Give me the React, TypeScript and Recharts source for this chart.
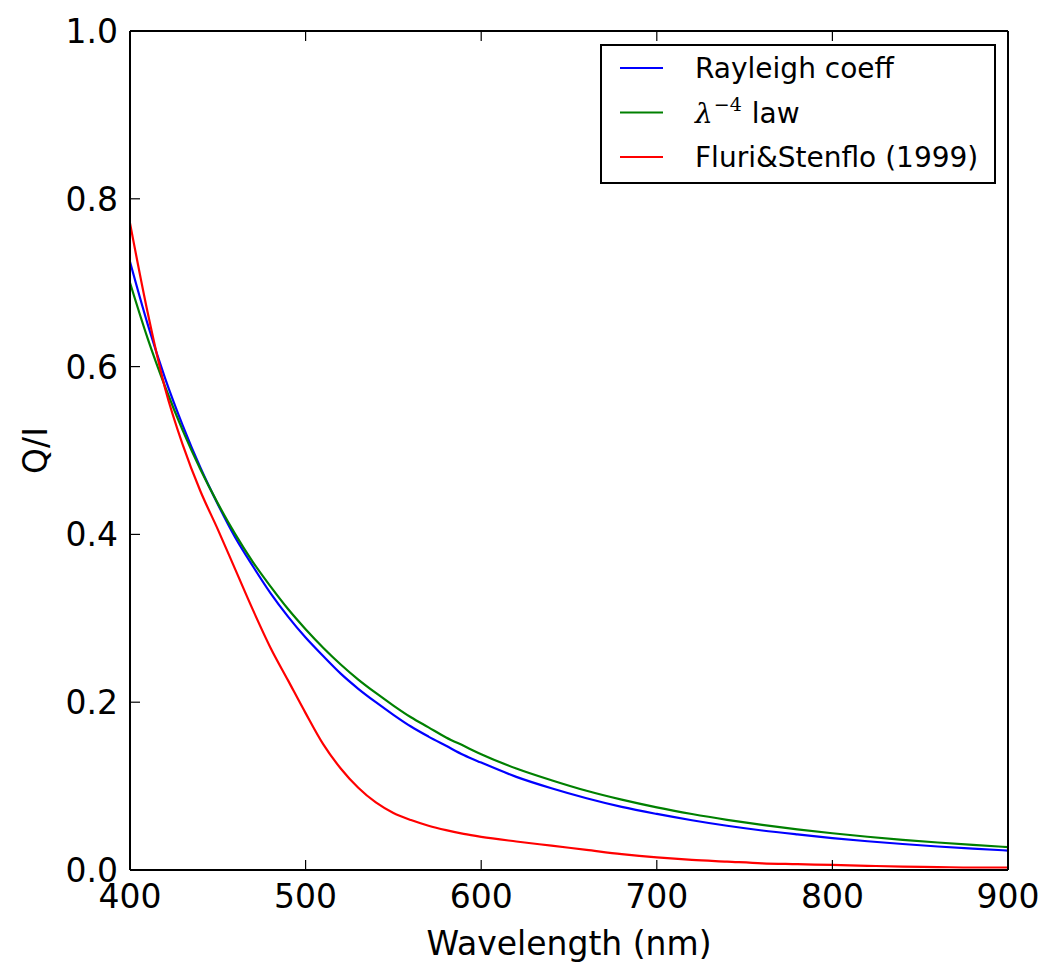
import React from 'react';
import { LineChart, Line, XAxis, YAxis, Legend } from 'recharts';

// wavelength grid (nm), read off the figure
const wavelengths = [
  400, 410, 420, 430, 440, 450, 460, 470, 480, 490, 500, 510, 520, 530, 540, 550, 560, 570, 580, 590, 600,
  620, 640, 660, 680, 700, 720, 740, 760, 780, 800, 820, 840, 860, 880, 900,
];

const rayleigh = [
  0.725, 0.651, 0.586, 0.53, 0.48, 0.436, 0.396, 0.362, 0.33, 0.302, 0.277, 0.255, 0.234, 0.216, 0.2, 0.185,
  0.171, 0.159, 0.148, 0.137, 0.128,
  0.111, 0.0974, 0.0855, 0.0752, 0.0668, 0.0593, 0.0527, 0.0471, 0.0424, 0.0381, 0.0343, 0.031, 0.028, 0.0254,
  0.0232,
];

const lambda4 = [
  0.7, 0.634, 0.576, 0.524, 0.478, 0.437, 0.4, 0.367, 0.338, 0.311, 0.287, 0.265, 0.245, 0.227, 0.211, 0.196,
  0.182, 0.17, 0.158, 0.148, 0.138,
  0.121, 0.107, 0.0944, 0.0838, 0.0746, 0.0667, 0.0598, 0.0537, 0.0484, 0.0438, 0.0396, 0.036, 0.0328, 0.0299,
  0.0273,
];

const fluri = [
  0.771, 0.665, 0.574, 0.507, 0.452, 0.406, 0.358, 0.31, 0.265, 0.226, 0.187, 0.15, 0.121, 0.098, 0.0805, 0.068,
  0.0595, 0.0528, 0.0475, 0.043, 0.0395,
  0.034, 0.029, 0.024, 0.019, 0.015, 0.012, 0.01, 0.008, 0.007, 0.006, 0.005, 0.004, 0.0035, 0.003, 0.003,
];

const xTicks = [400, 500, 600, 700, 800, 900];
const yTicks = [0, 0.2, 0.4, 0.6, 0.8, 1.0];
const legendOrder = ['rayleigh', 'lambda4', 'fluri'];

const data = wavelengths.map((wl, i) => ({
  wl,
  rayleigh: rayleigh[i],
  lambda4: lambda4[i],
  fluri: fluri[i],
}));

const FONT = '"DejaVu Sans", sans-serif';
const TICK_LEN = 10;
const TICK_FONT = 33;

const BottomTick = (props: any) => {
  const { x, y, payload } = props;
  return (
    <g>
      <line x1={x} x2={x} y1={y} y2={y - TICK_LEN} stroke="#000" strokeWidth={1.2} />
      <text x={x} y={y + 38} textAnchor="middle" fontFamily={FONT} fontSize={TICK_FONT} fill="#000">
        {payload.value}
      </text>
    </g>
  );
};

const TopTick = (props: any) => {
  const { x, y } = props;
  return <line x1={x} x2={x} y1={y} y2={y + TICK_LEN} stroke="#000" strokeWidth={1.2} />;
};

const LeftTick = (props: any) => {
  const { x, y, payload } = props;
  return (
    <g>
      <line x1={x} x2={x + TICK_LEN} y1={y} y2={y} stroke="#000" strokeWidth={1.2} />
      <text x={x - 12} y={y + 12} textAnchor="end" fontFamily={FONT} fontSize={TICK_FONT} fill="#000">
        {Number(payload.value).toFixed(1)}
      </text>
    </g>
  );
};

const RightTick = (props: any) => {
  const { x, y } = props;
  return <line x1={x - TICK_LEN} x2={x} y1={y} y2={y} stroke="#000" strokeWidth={1.2} />;
};

const YLabel = (props: any) => {
  const vb = props.viewBox || {};
  const cy = vb.height ? vb.y + vb.height / 2 : 450;
  return (
    <text
      x={35}
      y={cy}
      transform={`rotate(-90, 35, ${cy})`}
      textAnchor="middle"
      dominantBaseline="central"
      fontFamily={FONT}
      fontSize={TICK_FONT}
      fill="#000"
    >
      Q/I
    </text>
  );
};

const LegendBox = (props: any) => {
  const payload = [...(props.payload || [])].sort(
    (a: any, b: any) => legendOrder.indexOf(a.dataKey) - legendOrder.indexOf(b.dataKey)
  );
  return (
    <svg width={396} height={140} style={{ display: 'block' }}>
      <rect x={1} y={1} width={394} height={138} fill="#fff" stroke="#000" strokeWidth={2} />
      {payload.map((entry: any, i: number) => {
        const cy = 24 + i * 44.5;
        return (
          <g key={entry.dataKey}>
            <line x1={20} x2={63} y1={cy} y2={cy} stroke={entry.color} strokeWidth={2} />
            {entry.dataKey === 'lambda4' ? (
              <text x={95} y={cy + 10} fontSize={28} fill="#000" fontFamily={FONT}>
                <tspan fontFamily='"DejaVu Serif", serif' fontStyle="italic">λ</tspan>
                <tspan fontFamily='"DejaVu Serif", serif' fontSize={19} dy={-12} dx={1}>−4</tspan>
                <tspan dy={12} dx={10}>law</tspan>
              </text>
            ) : (
              <text x={95} y={cy + 10} fontSize={28} fill="#000" fontFamily={FONT}>
                {entry.value}
              </text>
            )}
          </g>
        );
      })}
    </svg>
  );
};

export default function App() {
  return (
    <div style={{ position: 'absolute', left: 0, top: 0, width: 1047, height: 964, background: '#fff' }}>
      <LineChart width={1047} height={964} data={data} margin={{ top: 30, right: 38, bottom: 0, left: 0 }}>
        <XAxis
          dataKey="wl"
          type="number"
          domain={[400, 900]}
          ticks={xTicks}
          interval={0}
          height={94}
          tickSize={0}
          tickMargin={0}
          tick={<BottomTick />}
          axisLine={{ stroke: '#000', strokeWidth: 2 }}
          label={{ value: 'Wavelength (nm)', position: 'insideBottom', offset: 9, fill: '#000', fontSize: 33, fontFamily: FONT }}
        />
        <XAxis
          xAxisId="top"
          orientation="top"
          dataKey="wl"
          type="number"
          domain={[400, 900]}
          ticks={xTicks}
          interval={0}
          height={1}
          tickSize={0}
          tickMargin={0}
          tick={<TopTick />}
          axisLine={{ stroke: '#000', strokeWidth: 2 }}
        />
        <YAxis
          type="number"
          domain={[0, 1]}
          ticks={yTicks}
          interval={0}
          width={130}
          tickSize={0}
          tickMargin={0}
          tick={<LeftTick />}
          axisLine={{ stroke: '#000', strokeWidth: 2 }}
          label={{ content: <YLabel /> }}
        />
        <YAxis
          yAxisId="right"
          orientation="right"
          type="number"
          domain={[0, 1]}
          ticks={yTicks}
          interval={0}
          width={1}
          tickSize={0}
          tickMargin={0}
          tick={<RightTick />}
          axisLine={{ stroke: '#000', strokeWidth: 2 }}
        />
        <Legend
          layout="vertical"
          align="center"
          verticalAlign="middle"
          content={<LegendBox />}
          wrapperStyle={{ position: 'absolute', left: 600, top: 44, width: 396, height: 140 }}
        />
        <Line type="monotone" dataKey="rayleigh" name="Rayleigh coeff" stroke="#0000ff" strokeWidth={2.2} dot={false} isAnimationActive={false} />
        <Line type="monotone" dataKey="lambda4" name="λ-4 law" stroke="#008000" strokeWidth={2.2} dot={false} isAnimationActive={false} />
        <Line type="monotone" dataKey="fluri" name="Fluri&Stenflo (1999)" stroke="#ff0000" strokeWidth={2.2} dot={false} isAnimationActive={false} />
      </LineChart>
    </div>
  );
}
